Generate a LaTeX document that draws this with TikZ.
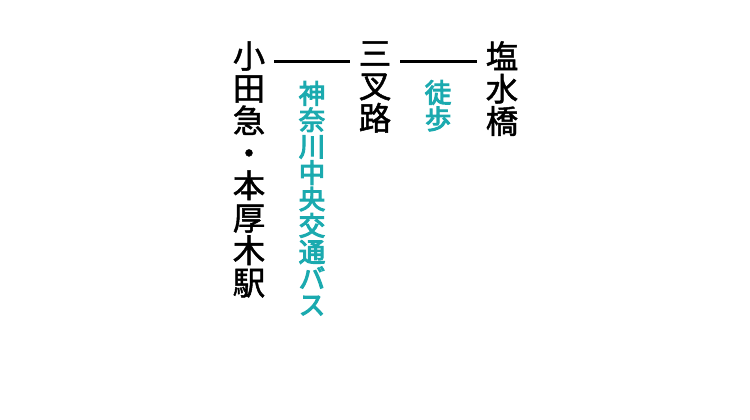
\documentclass[tikz,border=0pt]{standalone}
\usepackage{fontspec}
\usepackage{xcolor}
\usepackage{tikz}
\newfontfamily\cjk[FakeBold=1.5]{Noto Sans CJK JP}
\newfontfamily\cjkmid[FakeBold=4]{Noto Sans CJK JP}
\definecolor{busteal}{RGB}{27,170,175}

\begin{document}
\begin{tikzpicture}[x=0.75pt,y=0.75pt,
  station/.style={inner sep=0pt,anchor=north,align=center,font=\cjk\fontsize{24.3}{24.3}\selectfont},
  mode/.style={inner sep=0pt,anchor=north,align=center,text=busteal,font=\cjkmid\fontsize{19.8}{19.8}\selectfont},
  route/.style={line width=2.25pt,shorten <=6.75pt,shorten >=6.75pt}]
  \useasboundingbox (0,0) rectangle (750,-420);

  % Stations
  \node[station] (honatsugi) at (249,-41) {小\\田\\急\\・\\本\\厚\\木\\駅};
  \node[station] (sanmata) at (375,-41) {三\\叉\\路};
  \node[station] (shiomizu) at (502,-41) {塩\\水\\橋};

  % Links between stations
  \draw[route] ([yshift=-15.75pt]honatsugi.north east) -- ([yshift=-15.75pt]sanmata.north west);
  \draw[route] ([yshift=-15.75pt]sanmata.north east) -- ([yshift=-15.75pt]shiomizu.north west);

  % Means of transport
  \node[mode] (bus) at (312,-81) {神\\奈\\川\\中\\央\\交\\通\\バ\\ス};
  \node[mode] (walk) at (438,-80) {徒\\歩};
\end{tikzpicture}
\end{document}
